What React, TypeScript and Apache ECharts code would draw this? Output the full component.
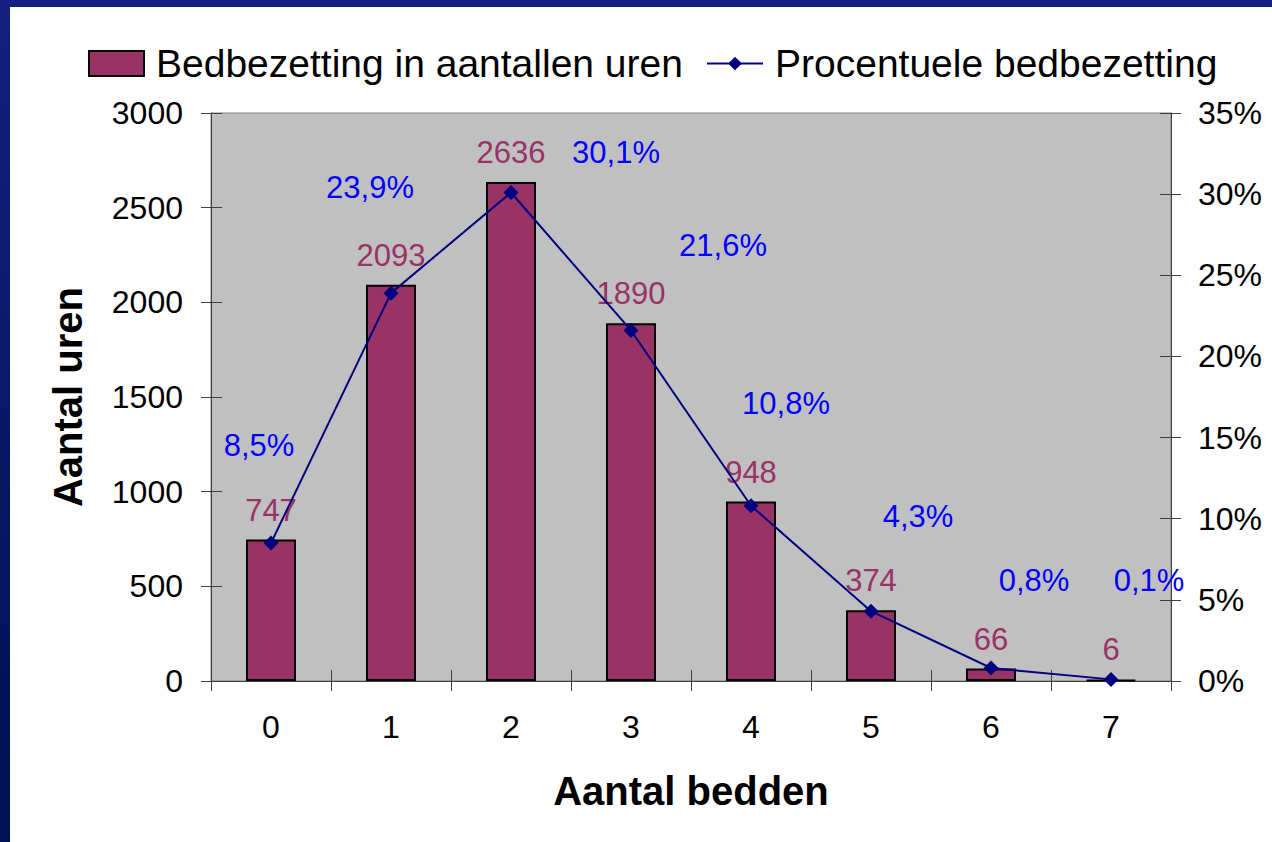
import React, { useEffect, useRef } from "react";
import * as echarts from "echarts";

const categories = ["0", "1", "2", "3", "4", "5", "6", "7"];
const uren = [747, 2093, 2636, 1890, 948, 374, 66, 6];
const procent = [8.5, 23.9, 30.1, 21.6, 10.8, 4.3, 0.8, 0.1];
const leftTicks = { min: 0, max: 3000, interval: 500 };
const rightTicks = { min: 0, max: 35, interval: 5 };
const barName = "Bedbezetting in aantallen uren";
const lineName = "Procentuele bedbezetting";
// label placement (layout, not data)
const pctLabelOffsets = [
  [-12, -98], [-21, -106], [105, -40], [92, -85], [35, -102], [47, -95], [43, -88], [38, -99],
];

const FONT = "Liberation Sans, Arial, sans-serif";

export default function App() {
  const ref = useRef<HTMLDivElement>(null);
  useEffect(() => {
    const chart = echarts.init(ref.current!, null, { renderer: "svg" });
    const axisGrey = "#404040";
    chart.setOption({
      animation: false,
      backgroundColor: "#ffffff",
      textStyle: { fontFamily: FONT },
      graphic: [
        { type: "rect", shape: { x: 0, y: 0, width: 1272, height: 7 }, style: { fill: "#13207f" }, z: 100 },
        {
          type: "rect",
          shape: { x: 0, y: 0, width: 10, height: 842 },
          style: {
            fill: new echarts.graphic.LinearGradient(0, 0, 0, 1, [
              { offset: 0, color: "#13207f" },
              { offset: 1, color: "#001050" },
            ]),
          },
          z: 100,
        },
      ],
      legend: [
        {
          data: [{ name: barName, icon: "rect" }],
          left: 83,
          top: 39,
          itemWidth: 55,
          itemHeight: 25,
          textStyle: { fontSize: 39, color: "#000", fontFamily: FONT, padding: [0, 0, 0, 7] },
          selectedMode: false,
        },
        {
          data: [lineName],
          left: 701,
          top: 39,
          itemWidth: 56,
          itemHeight: 17,
          textStyle: { fontSize: 39, color: "#000", fontFamily: FONT, padding: [0, 0, 0, 7] },
          selectedMode: false,
        },
      ],
      grid: {
        left: 211,
        right: 101,
        top: 113,
        bottom: 161,
        show: true,
        backgroundColor: "#c0c0c0",
        borderColor: "#808080",
        borderWidth: 1,
      },
      xAxis: [
        {
          type: "category",
          data: categories,
          position: "bottom",
          name: "Aantal bedden",
          nameLocation: "middle",
          nameGap: 90,
          nameTextStyle: { fontSize: 40, fontWeight: "bold", color: "#000", fontFamily: FONT },
          axisLine: { show: true, lineStyle: { color: axisGrey, width: 1 } },
          axisTick: { show: true, inside: false, length: 10, lineStyle: { color: axisGrey } },
          axisLabel: { fontSize: 32, color: "#000", margin: 30, fontFamily: FONT },
          splitLine: { show: false },
        },
        {
          type: "category",
          data: categories,
          position: "bottom",
          axisLine: { show: false },
          axisTick: { show: true, inside: true, length: 11, lineStyle: { color: axisGrey } },
          axisLabel: { show: false },
          splitLine: { show: false },
        },
      ],
      yAxis: [
        {
          type: "value",
          position: "left",
          ...leftTicks,
          name: "Aantal uren",
          nameLocation: "middle",
          nameGap: 123,
          nameTextStyle: { fontSize: 40, fontWeight: "bold", color: "#000", fontFamily: FONT },
          axisLine: { show: true, lineStyle: { color: axisGrey, width: 1 } },
          axisTick: { show: true, inside: false, length: 10, lineStyle: { color: axisGrey } },
          axisLabel: { fontSize: 32, color: "#000", margin: 28, fontFamily: FONT, formatter: (v: number) => String(v) },
          splitLine: { show: false },
        },
        {
          type: "value",
          position: "right",
          ...rightTicks,
          axisLine: { show: true, lineStyle: { color: axisGrey, width: 1 } },
          axisTick: { show: true, inside: false, length: 10, lineStyle: { color: axisGrey } },
          axisLabel: { fontSize: 32, color: "#000", margin: 27, fontFamily: FONT, formatter: "{value}%" },
          splitLine: { show: false },
        },
        {
          type: "value",
          position: "left",
          ...leftTicks,
          axisLine: { show: false },
          axisTick: { show: true, inside: true, length: 11, lineStyle: { color: axisGrey } },
          axisLabel: { show: false },
          splitLine: { show: false },
        },
        {
          type: "value",
          position: "right",
          ...rightTicks,
          axisLine: { show: false },
          axisTick: { show: true, inside: true, length: 11, lineStyle: { color: axisGrey } },
          axisLabel: { show: false },
          splitLine: { show: false },
        },
      ],
      series: [
        {
          name: barName,
          type: "bar",
          xAxisIndex: 0,
          yAxisIndex: 0,
          data: uren,
          barWidth: 50,
          itemStyle: { color: "#993366", borderColor: "#000", borderWidth: 2 },
          label: {
            show: true,
            position: "top",
            distance: 14,
            fontSize: 31,
            color: "#993366",
            fontFamily: FONT,
          },
          z: 2,
        },
        {
          name: lineName,
          type: "line",
          xAxisIndex: 0,
          yAxisIndex: 1,
          data: procent.map((v, i) => ({
            value: v,
            label: { offset: pctLabelOffsets[i] },
          })),
          symbol: "diamond",
          symbolSize: 15,
          lineStyle: { color: "#000080", width: 2 },
          itemStyle: { color: "#000080" },
          label: {
            show: true,
            position: "inside",
            align: "center",
            verticalAlign: "middle",
            fontSize: 31,
            color: "#0000ff",
            fontFamily: FONT,
            formatter: (p: any) => p.value.toFixed(1).replace(".", ",") + "%",
          },
          z: 3,
        },
      ],
    });
    return () => chart.dispose();
  }, []);
  return (
    <div
      ref={ref}
      style={{ position: "absolute", left: 0, top: 0, width: 1272, height: 842 }}
    />
  );
}
